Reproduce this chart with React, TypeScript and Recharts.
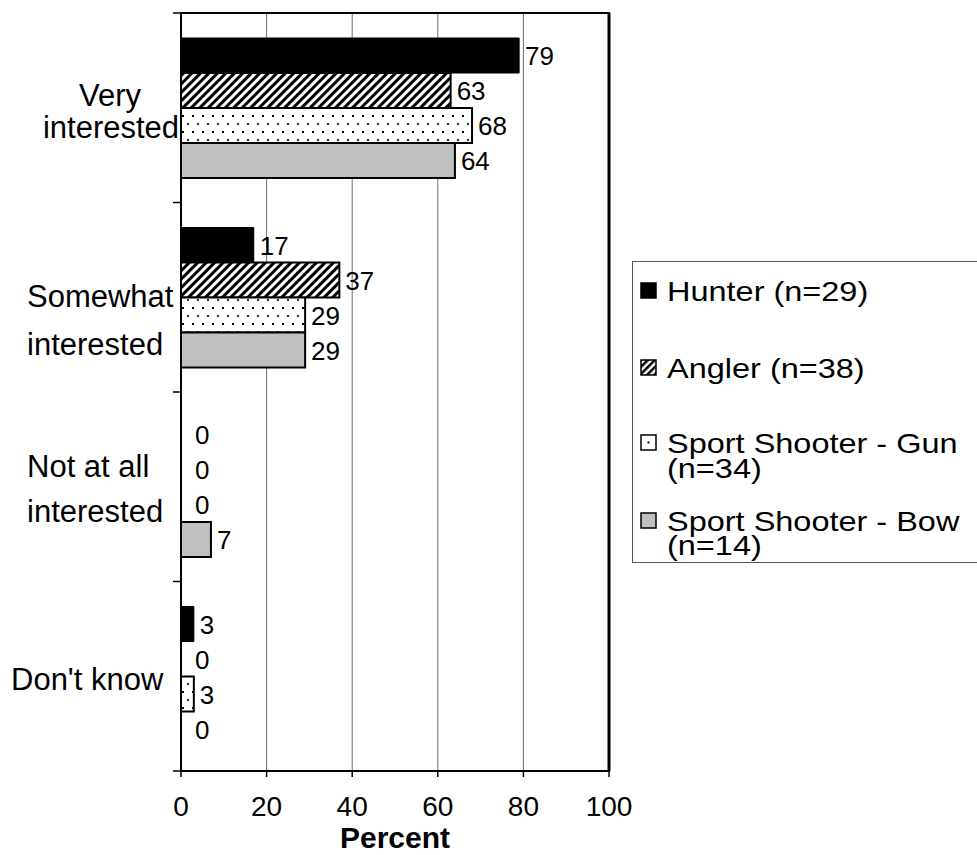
import React from 'react';
import { BarChart, Bar, XAxis, YAxis, CartesianGrid, LabelList, Legend, ReferenceArea, ReferenceLine } from 'recharts';

const categories = ["Very interested", "Somewhat interested", "Not at all interested", "Don't know"];
const categoryLines = [["Very", "interested"], ["Somewhat", "interested"], ["Not at all", "interested"], ["Don't know"]];
const hunter = [79, 17, 0, 3];
const angler = [63, 37, 0, 0];
const gunShooter = [68, 29, 0, 3];
const bowShooter = [64, 29, 7, 0];
const legendLines = [["Hunter (n=29)"], ["Angler (n=38)"], ["Sport Shooter - Gun", "(n=34)"], ["Sport Shooter - Bow", "(n=14)"]];
const xTicks = [0, 20, 40, 60, 80, 100];
const axisTitle = "Percent";

const data = categories.map((c, i) => ({
  category: c,
  hunter: hunter[i],
  angler: angler[i],
  gun: gunShooter[i],
  bow: bowShooter[i],
}));

const FONT = '"Liberation Sans", Arial, Helvetica, sans-serif';
const W = 977;
const H = 855;
const PLOT_LEFT = 181;
const PLOT_RIGHT = 609;
const PLOT_TOP = 13;
const PLOT_BOTTOM = 771;
const BAND = (PLOT_BOTTOM - PLOT_TOP) / categories.length;

const catLayout = [
  [{ x: 110, dy: -1.5, anchor: 'middle' }, { x: 111, dy: 30.5, anchor: 'middle' }],
  [{ x: 27, dy: 9.5, anchor: 'start' }, { x: 27, dy: 57.5, anchor: 'start' }],
  [{ x: 27, dy: -10, anchor: 'start' }, { x: 27, dy: 35, anchor: 'start' }],
  [{ x: 11, dy: 14, anchor: 'start' }],
];

const CategoryTick = (props: any) => {
  const { y, payload } = props;
  const idx = categories.indexOf(payload.value);
  const lines = categoryLines[idx] || [];
  const lay = catLayout[idx] || [];
  return (
    <g>
      <line x1={173} x2={PLOT_LEFT} y1={y - BAND / 2} y2={y - BAND / 2} stroke="#000" strokeWidth={1.5} />
      {idx === categories.length - 1 && (
        <line x1={173} x2={PLOT_LEFT} y1={y + BAND / 2} y2={y + BAND / 2} stroke="#000" strokeWidth={1.5} />
      )}
      {lines.map((t, k) => (
        <text key={k} x={lay[k].x} y={y + lay[k].dy} textAnchor={lay[k].anchor} fontSize={31} fontFamily={FONT} fill="#000">
          {t}
        </text>
      ))}
    </g>
  );
};

const XTick = (props: any) => {
  const { x, payload } = props;
  return (
    <text x={x} y={816} textAnchor="middle" fontSize={28} fontFamily={FONT} fill="#000">
      {payload.value}
    </text>
  );
};

const ValueLabel = (props: any) => {
  const { x, y, width, height, value } = props;
  const vb = props.viewBox || {};
  const bx = Number(x ?? vb.x);
  const bw = Number(width ?? vb.width ?? 0);
  const by = Number(y ?? vb.y);
  const bh = Number(height ?? vb.height);
  const lx = Math.max(bx + (bw > 0.5 ? bw : 0) + 6, 195);
  const ly = by + bh / 2 + 9.5;
  return (
    <text x={lx} y={ly} fontSize={26} fontFamily={FONT} fill="#000">
      {value}
    </text>
  );
};

const legendBaselines = [[40], [117], [192, 217], [270, 294]];
const LEG_SX = 1.16;

const Swatch = ({ i, y }: { i: number; y: number }) => {
  const x = 9;
  const s = 15;
  if (i === 0) return <rect x={x} y={y} width={s} height={s} fill="#000" stroke="#000" strokeWidth={1.5} />;
  if (i === 1) return <rect x={x} y={y} width={s} height={s} fill="url(#hatchLegend)" stroke="#000" strokeWidth={1.5} />;
  if (i === 2)
    return (
      <g>
        <rect x={x} y={y} width={s} height={s} fill="#fff" stroke="#000" strokeWidth={1.5} />
        <rect x={x + 6.5} y={y + 6.5} width={2} height={2} fill="#000" />
      </g>
    );
  return <rect x={x} y={y} width={s} height={s} fill="#c0c0c0" stroke="#000" strokeWidth={1.5} />;
};

const LegendBox = () => (
  <svg width={360} height={310} style={{ display: 'block', overflow: 'visible' }}>
    <defs>
      <pattern id="hatchLegend" patternUnits="userSpaceOnUse" width={5} height={5} patternTransform="rotate(45)">
        <rect width={5} height={5} fill="#fff" />
        <rect width={2.5} height={5} fill="#000" />
      </pattern>
    </defs>
    <rect x={0.5} y={0.5} width={359} height={301} fill="#fff" stroke="#555" strokeWidth={1} />
    {legendLines.map((lines, i) => (
      <g key={i}>
        <Swatch i={i} y={legendBaselines[i][0] - 18} />
        {lines.map((t, k) => (
          <text
            key={k}
            transform={`translate(35,${legendBaselines[i][k]}) scale(${LEG_SX},1)`}
            fontSize={28}
            fontFamily={FONT}
            fill="#000"
          >
            {t}
          </text>
        ))}
      </g>
    ))}
  </svg>
);

export default function App() {
  return (
    <div style={{ position: 'absolute', left: 0, top: 0, width: W, height: H, overflow: 'hidden', background: '#fff', fontFamily: FONT }}>
      <BarChart
        width={W}
        height={H}
        data={data}
        layout="vertical"
        margin={{ top: PLOT_TOP, right: W - PLOT_RIGHT, bottom: 0, left: 0 }}
        barGap={0}
      >
        <defs>
          <pattern id="hatch" patternUnits="userSpaceOnUse" width={6} height={6} patternTransform="rotate(45)">
            <rect width={6} height={6} fill="#fff" />
            <rect width={3} height={6} fill="#000" />
          </pattern>
          <pattern id="dots" patternUnits="userSpaceOnUse" width={10} height={16}>
            <rect width={10} height={16} fill="#fff" />
            <rect x={2} y={3} width={2} height={2} fill="#000" />
            <rect x={7} y={11} width={2} height={2} fill="#333" />
          </pattern>
        </defs>
        <CartesianGrid horizontal={false} vertical={true} stroke="#6e6e6e" strokeWidth={1} />
        <XAxis
          type="number"
          domain={[0, 100]}
          ticks={xTicks}
          interval={0}
          height={H - PLOT_BOTTOM}
          axisLine={{ stroke: '#000', strokeWidth: 2 }}
          tickLine={{ stroke: '#000', strokeWidth: 1.5 }}
          tickSize={6}
          tick={<XTick />}
          label={{
            content: () => (
              <text x={(PLOT_LEFT + PLOT_RIGHT) / 2} y={848} textAnchor="middle" fontSize={30} fontWeight="bold" fontFamily={FONT} fill="#000">
                {axisTitle}
              </text>
            ),
          }}
        />
        <YAxis
          type="category"
          dataKey="category"
          width={PLOT_LEFT}
          axisLine={{ stroke: '#000', strokeWidth: 2 }}
          tickLine={false}
          tick={<CategoryTick />}
          interval={0}
        />
        <Bar dataKey="hunter" fill="#000" stroke="#000" strokeWidth={1} barSize={35} minPointSize={0.01} isAnimationActive={false}>
          <LabelList dataKey="hunter" content={<ValueLabel />} />
        </Bar>
        <Bar dataKey="angler" fill="url(#hatch)" stroke="#000" strokeWidth={2} barSize={35} minPointSize={0.01} isAnimationActive={false}>
          <LabelList dataKey="angler" content={<ValueLabel />} />
        </Bar>
        <Bar dataKey="gun" fill="url(#dots)" stroke="#000" strokeWidth={2} barSize={35} minPointSize={0.01} isAnimationActive={false}>
          <LabelList dataKey="gun" content={<ValueLabel />} />
        </Bar>
        <Bar dataKey="bow" fill="#c0c0c0" stroke="#000" strokeWidth={2} barSize={35} minPointSize={0.01} isAnimationActive={false}>
          <LabelList dataKey="bow" content={<ValueLabel />} />
        </Bar>
        <ReferenceArea x1={0} x2={100} fill="none" fillOpacity={0} stroke="#000" strokeWidth={2} ifOverflow="visible" />
        <ReferenceLine x={100} stroke="#000" strokeWidth={3} ifOverflow="visible" />
        <Legend
          layout="vertical"
          align="center"
          verticalAlign="middle"
          wrapperStyle={{ position: 'absolute', left: 632, top: 261, width: 360, height: 310, margin: 0, padding: 0 }}
          content={() => <LegendBox />}
        />
      </BarChart>
    </div>
  );
}
